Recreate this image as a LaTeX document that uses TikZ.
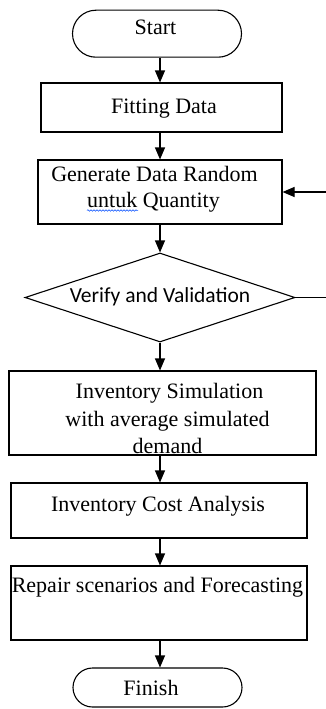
\documentclass[tikz,border=0pt]{standalone}
\usepackage{fontspec}
\setmainfont{Liberation Serif}
\newfontfamily\calib{Carlito}
\usetikzlibrary{arrows.meta,shapes.geometric,decorations.pathmorphing}
\begin{document}
\begin{tikzpicture}[x=1pt,y=-1pt,
  boxnode/.style={draw, line width=1.1pt, rectangle, inner sep=0pt},
  term/.style={draw, line width=1.1pt, rectangle, inner sep=0pt, rounded corners=#1},
  txt/.style={font=\fontsize{22}{27}\selectfont, anchor=base, inner sep=0pt},
  sanstxt/.style={font=\calib\fontsize{21.5}{26}\selectfont, anchor=base, inner sep=0pt},
  arr/.style={line width=1.1pt, -{Triangle[length=12pt,width=10pt]}},
  plainline/.style={line width=1.1pt},
  squiggle/.style={blue!70!cyan, line width=0.5pt, decorate, decoration={snake, amplitude=0.8pt, segment length=3pt}}
]
\fill[white] (0,0) rectangle (326,709);
\useasboundingbox (0,0) rectangle (326,709);

% shapes
\node[term=23.5pt, minimum width=169pt, minimum height=47pt] (start) at (157,33.7) {};
\node[boxnode, minimum width=241pt, minimum height=49pt] (fit) at (161.5,107.5) {};
\node[boxnode, minimum width=244pt, minimum height=64pt] (gen) at (160,192) {};
\node[draw, diamond, line width=1.1pt, inner sep=0pt, aspect=3, minimum width=270pt, minimum height=89pt] (dia) at (160,297.5) {};
\node[boxnode, minimum width=307pt, minimum height=84pt] (sim) at (162.5,413) {};
\node[boxnode, minimum width=296pt, minimum height=55pt] (cost) at (159,510.5) {};
\node[boxnode, minimum width=296pt, minimum height=74pt] (rep) at (159,603) {};
\node[term=19.5pt, minimum width=169pt, minimum height=39pt] (fin) at (157.5,687.5) {};

% texts
\node[txt] (tstart) at (155.5,35) {Start};
\node[txt] (tfit) at (164,113) {Fitting Data};
\node[txt] (tgen1) at (154.5,181) {Generate Data Random};
\node[txt] (tgen2) at (153.5,207) {untuk Quantity};
\node[sanstxt] (tdia) at (160,302) {Verify and Validation};
\node[txt] (tsim1) at (169.5,398) {Inventory Simulation};
\node[txt] (tsim2) at (167.5,426) {with average simulated};
\node[txt] (tsim3) at (167.5,453) {demand};
\node[txt] (tcost) at (158,511) {Inventory Cost Analysis};
\node[txt] (trep) at (157.5,592) {Repair scenarios and Forecasting};
\node[txt] (tfin) at (151,695) {Finish};

% spell-check underline
\draw[squiggle] (87,210.5) -- (138,210.5);

% connectors
\coordinate (ax) at (160,0);
\draw[arr] (start.south -| ax) -- (fit.north -| ax);
\draw[arr] (fit.south -| ax) -- (gen.north -| ax);
\draw[arr] (gen.south -| ax) -- (dia.north -| ax);
\draw[arr] (dia.south -| ax) -- (sim.north -| ax);
\draw[arr] (sim.south -| ax) -- (cost.north -| ax);
\draw[arr] (cost.south -| ax) -- (rep.north -| ax);
\draw[arr] (rep.south -| ax) -- (fin.north -| ax);

\coordinate (fbin) at (326,192);
\coordinate (fbout) at (326,297.5);
\draw[arr] (fbin) -- (gen.east);
\draw[plainline] (dia.east) -- (fbout);
\end{tikzpicture}
\end{document}
